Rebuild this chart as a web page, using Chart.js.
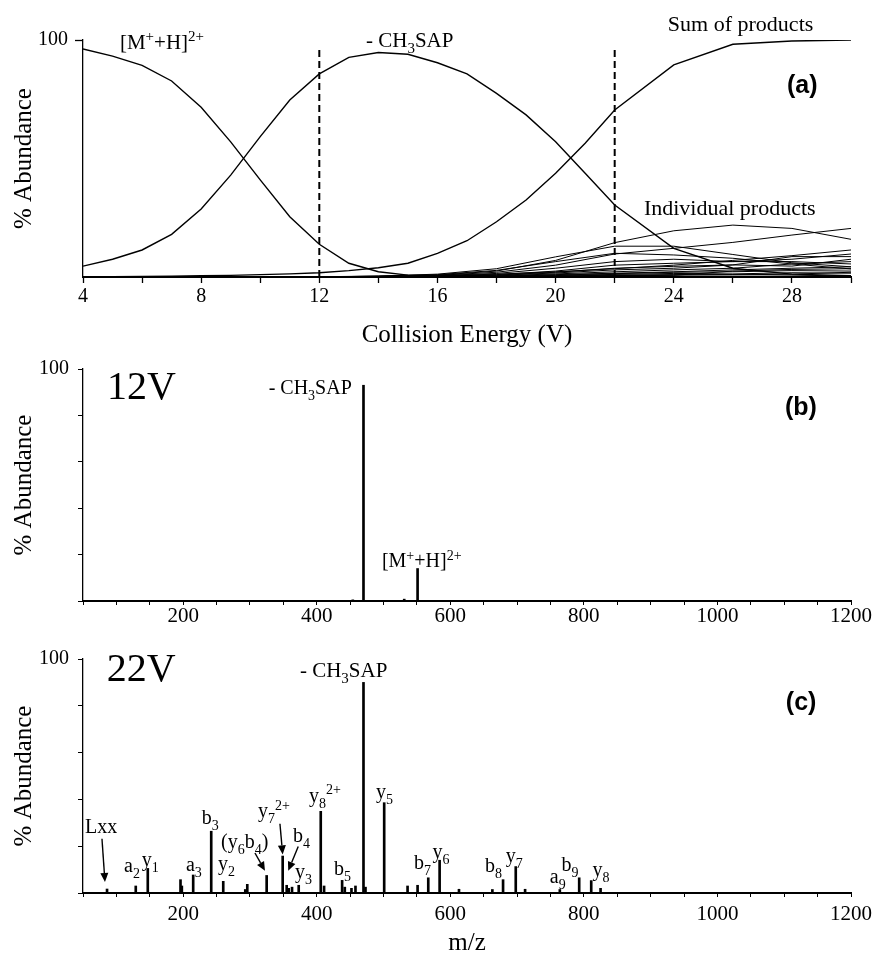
<!DOCTYPE html>
<html><head><meta charset="utf-8">
<script src="https://cdn.jsdelivr.net/npm/chart.js@4.4.0/dist/chart.umd.min.js"></script>
<style>
html,body{margin:0;padding:0;background:#fff;width:881px;height:956px;overflow:hidden;}
canvas{position:absolute;left:0;}
</style></head><body>
<canvas id="ca" width="881" height="350" style="top:0px"></canvas>
<canvas id="cb" width="881" height="290" style="top:350px"></canvas>
<canvas id="cc" width="881" height="316" style="top:640px"></canvas>
<script>
// ---------- Panel (a): breakdown curves ----------
const energies = [4,5,6,7,8,9,10,11,12,13,14,15,16,17,18,19,20,21,22,24,26,28,30];
const precursor = [96.2,93.2,89.3,82.7,71.6,57,41,25.4,13.8,5.8,2.2,0.8,0.4,0.2,0.1,0.1,0.1,0,0,0,0,0,0];
const lossCH3SAP = [4.6,7.5,11.4,18,28.7,43,59.2,74.7,85.7,92.7,94.7,94,90.4,85.7,77.5,68.4,57.1,43.8,30.4,12.1,3.7,1.2,0.5];
const sumProducts = [0,0.1,0.2,0.3,0.5,0.7,1,1.3,1.8,2.7,3.9,5.8,10,15.3,23.3,32.5,43.8,56.4,70.5,89.5,98.2,99.6,100];
const productEnergies = [4,8,12,14,16,18,20,22,24,26,28,30];
const product1  = [0,0,0.1,0.3,0.8,2.5,7,14.5,19.5,21.9,20.5,15.9];
const product2  = [0,0,0.1,0.3,0.7,2,5,9.7,12.1,14.6,17.7,20.5];
const product3  = [0,0,0.1,0.4,1.2,3.5,8.5,13,13,9.5,6,4.3];
const product4  = [0,0,0,0.2,0.5,1.2,2.2,3.5,5,7,9,11.4];
const product5  = [0,0,0.1,0.3,1,2.8,6.5,10,9.3,7.9,5.5,3.4];
const product6  = [0,0,0,0.2,0.6,1.5,3.7,6.5,7.5,6.5,6.5,5.5];
const product7  = [0,0,0,0.1,0.4,1,2.5,5,5.8,6.5,7.5,9.7];
const product8  = [0,0,0,0.1,0.3,0.8,2,3.7,4.5,5.1,8.6,8.6];
const product9  = [0,0,0,0.1,0.3,0.7,1.7,3,3.7,5.1,4.6,7.5];
const product10 = [0,0,0,0.1,0.2,0.5,1.3,2.2,3,3.7,5.5,6.5];
const product11 = [0,0,0,0,0.2,0.4,1,1.6,2.2,3,3.7,4.3];
const product12 = [0,0,0,0,0.1,0.3,0.8,1.4,2,2.2,2.7,2.5];
const product13 = [0,0,0,0,0.1,0.2,0.6,1.1,1.5,1.3,1.8,1.6];
const product14 = [0,0,0,0,0.1,0.2,0.4,0.8,1,1,0.8,0.4];
const product15 = [0,0,0,0,0,0.1,0.3,0.6,0.8,0.9,1.2,2];
const product16 = [0,0,0,0,0,0.1,0.2,0.5,0.7,2.5,3.2,3.5];
const individualProducts = [product1,product2,product3,product4,product5,product6,product7,product8,
  product9,product10,product11,product12,product13,product14,product15,product16];
const markedEnergies = [12, 22];
const markerTop = 97;
const energyTickLabels = [4,8,12,16,20,24,28];

// ---------- Panel (b): 12 V spectrum ----------
const mz12V  = [454, 470, 531, 551];
const int12V = [0.5, 93, 0.8, 14];

// ---------- Panel (c): 22 V spectrum ----------
const mz22V  = [86,129,147,196,198,215,242,260,293,296,325,349,355,358,363,373,406,411,438,442,452,458,470,473,501,536,551,567,584,613,663,679,698,712,764,793,811,825];
const int22V = [1.7,3,10.5,5.7,3,7.7,26.4,5,1.5,3.7,7.5,15.8,3.3,2,2.5,3.3,34.9,3,5.4,2.5,2,3,90,2.5,38.6,3,3.3,6.5,14,1.6,1.5,5.7,11.3,1.6,1.5,6.5,5.3,2];
const mzTickLabels = [200,400,600,800,1000,1200];

// ---------- Annotation texts ----------
const notesA = [
  {text:'[M^{+}+H]^{2+}', x:5.25, y:96.2, size:21},
  {text:'- CH_{3}SAP', x:13.58, y:97, size:21},
  {text:'Sum of products', x:23.8, y:104, size:22},
  {text:'Individual products', x:22.99, y:26.2, size:22},
  {text:'(a)', x:27.83, y:80.4, size:25, bold:true, family:'"Liberation Sans", Arial, sans-serif', baseline:'middle'}
];
const notesB = [
  {text:'12V', x:86, y:87, size:40},
  {text:'- CH_{3}SAP', x:328, y:89.1, size:20},
  {text:'[M^{+}+H]^{2+}', x:497.6, y:14.6, size:20},
  {text:'(b)', x:1101, y:83.3, size:25, bold:true, family:'"Liberation Sans", Arial, sans-serif', baseline:'middle'}
];
const notesC = [
  {text:'22V', x:85.5, y:90.5, size:40},
  {text:'- CH_{3}SAP', x:374.8, y:92.5, size:21},
  {text:'(c)', x:1102.4, y:81.3, size:25, bold:true, family:'"Liberation Sans", Arial, sans-serif', baseline:'middle'},
  {text:'Lxx', x:53, y:25.7, size:20},
  {text:'a_{2}', x:111.4, y:8.8, size:20},
  {text:'y_{1}', x:137.9, y:11.6, size:20},
  {text:'a_{3}', x:204.2, y:9.3, size:20},
  {text:'b_{3}', x:227.7, y:29.6, size:20},
  {text:'y_{2}', x:252, y:10, size:20},
  {text:'(y_{6}b_{4})', x:256.6, y:19.2, size:20},
  {text:'y_{7}^{2+}', x:312, y:32.4, size:20},
  {text:'b_{4}', x:364.4, y:22, size:20},
  {text:'y_{3}', x:367.4, y:6.2, size:20},
  {text:'y_{8}^{2+}', x:388.3, y:39, size:20},
  {text:'b_{5}', x:425.7, y:7.5, size:20},
  {text:'y_{5}', x:488.6, y:40.4, size:20},
  {text:'b_{7}', x:545.5, y:10.2, size:20},
  {text:'y_{6}', x:573.5, y:14.8, size:20},
  {text:'b_{8}', x:651.8, y:8.8, size:20},
  {text:'y_{7}', x:683.2, y:13.3, size:20},
  {text:'a_{9}', x:749, y:4.3, size:20},
  {text:'b_{9}', x:766.6, y:9.3, size:20},
  {text:'y_{8}', x:813, y:7.2, size:20}
];
const arrowsC = [
  {from:[78.4,23.2], to:[82.9,4.7]},
  {from:[307.5,17.1], to:[322.5,9.5]},
  {from:[344.9,29.6], to:[349,16.5]},
  {from:[372.3,19.9], to:[357.3,9.5]}
];

const SERIF = '"Liberation Serif", "Times New Roman", serif';
Chart.defaults.font.family = SERIF;
Chart.defaults.color = '#000';

function parseRich(s){
  const re=/([_^])\{([^}]*)\}|([^_^]+)/g; const out=[]; let m;
  while((m=re.exec(s))){ if(m[3]!==undefined) out.push({t:m[3],k:''}); else out.push({t:m[2],k:m[1]}); }
  return out;
}
function drawRich(ctx,x,y,it){
  const parts=parseRich(it.text); const size=it.size; const small=Math.round(size*0.72);
  const fam=it.family||SERIF; const b=it.bold?'bold ':'';
  ctx.textAlign='left'; ctx.textBaseline=it.baseline||'alphabetic'; ctx.fillStyle='#000';
  let cx=x;
  parts.forEach(p=>{
    ctx.font=b+(p.k?small:size)+'px '+fam;
    const dy=p.k==='_'?size*0.3:(p.k==='^'?-size*0.38:0);
    ctx.fillText(p.t,cx,y+dy);
    cx+=ctx.measureText(p.t).width;
  });
}
const notesPlugin={
  id:'notes',
  afterDatasetsDraw(chart,args,opts){
    const ctx=chart.ctx, xs=chart.scales.x, ys=chart.scales.y;
    ctx.save();
    (opts.arrows||[]).forEach(a=>{
      const x0=xs.getPixelForValue(a.from[0]), y0=ys.getPixelForValue(a.from[1]);
      const x1=xs.getPixelForValue(a.to[0]), y1=ys.getPixelForValue(a.to[1]);
      const ang=Math.atan2(y1-y0,x1-x0), L=9, W=4;
      const bx=x1-L*Math.cos(ang), by=y1-L*Math.sin(ang);
      ctx.strokeStyle='#000'; ctx.lineWidth=1.4;
      ctx.beginPath(); ctx.moveTo(x0,y0); ctx.lineTo(bx,by); ctx.stroke();
      ctx.fillStyle='#000'; ctx.beginPath(); ctx.moveTo(x1,y1);
      ctx.lineTo(bx+W*Math.sin(ang),by-W*Math.cos(ang));
      ctx.lineTo(bx-W*Math.sin(ang),by+W*Math.cos(ang)); ctx.closePath(); ctx.fill();
    });
    (opts.items||[]).forEach(it=>drawRich(ctx,xs.getPixelForValue(it.x),ys.getPixelForValue(it.y),it));
    ctx.restore();
  }
};

const pts=(xs,ys)=>xs.map((v,i)=>({x:v,y:ys[i]}));
const lineDs=(data,w)=>({data,borderColor:'#000',borderWidth:w,pointRadius:0,tension:0,fill:false});

// ---------- Chart (a) ----------
new Chart(document.getElementById('ca'),{
  type:'line',
  data:{datasets:[
    ...individualProducts.map(arr=>lineDs(pts(productEnergies,arr),1)),
    lineDs(pts(energies,precursor),1.4),
    lineDs(pts(energies,lossCH3SAP),1.4),
    lineDs(pts(energies,sumProducts),1.4),
    ...markedEnergies.map(e=>Object.assign(lineDs([{x:e,y:0},{x:e,y:markerTop}],2),{borderDash:[7,4]}))
  ]},
  options:{
    responsive:false,animation:false,devicePixelRatio:1,
    layout:{padding:{top:40,right:30,left:0,bottom:0}},
    plugins:{legend:{display:false},tooltip:{enabled:false},notes:{items:notesA}},
    scales:{
      x:{type:'linear',min:4,max:30,
        afterFit:s=>{s.height=73;},
        ticks:{stepSize:2,autoSkip:false,maxRotation:0,
          callback:v=>energyTickLabels.includes(v)?String(v):'',
          font:{size:20,lineHeight:1},padding:4,color:'#000'},
        grid:{display:true,drawOnChartArea:false,drawTicks:true,tickLength:6,color:'#000',tickColor:'#000',tickWidth:1.3},
        border:{display:true,color:'#000',width:2},
        title:{display:true,text:'Collision Energy (V)',font:{size:25,lineHeight:1.2},padding:{top:0,bottom:0},color:'#000'}},
      y:{min:0,max:100,
        afterFit:s=>{s.width=83;},
        ticks:{stepSize:100,callback:v=>v===100?'100':'',font:{size:20,lineHeight:1},padding:7,color:'#000'},
        grid:{display:true,drawOnChartArea:false,drawTicks:true,tickLength:8,tickWidth:1.3,
          tickColor:c=>(c.tick&&c.tick.value===100)?'#000':'rgba(0,0,0,0)'},
        border:{display:true,color:'#000',width:1.3},
        title:{display:true,text:'% Abundance',font:{size:25,lineHeight:1.2},padding:{top:9,bottom:0},color:'#000'}}
    }
  },
  plugins:[notesPlugin]
});

// ---------- spectra ----------
function spectrum(id,mz,inten,notes,arrows,xHeight,padTop,tickPad,xTitle){
  return new Chart(document.getElementById(id),{
    type:'bar',
    data:{datasets:[{data:pts(mz,inten),backgroundColor:'#000',borderWidth:0,barThickness:2}]},
    options:{
      responsive:false,animation:false,devicePixelRatio:1,
      layout:{padding:{top:padTop,right:30,left:0,bottom:0}},
      plugins:{legend:{display:false},tooltip:{enabled:false},notes:{items:notes,arrows:arrows}},
      scales:{
        x:{type:'linear',min:50,max:1200,offset:false,
          afterFit:s=>{s.height=xHeight;},
          ticks:{stepSize:50,autoSkip:false,maxRotation:0,
            callback:v=>mzTickLabels.includes(v)?String(v):'',
            font:{size:21,lineHeight:1},padding:tickPad,color:'#000'},
          grid:{display:true,offset:false,drawOnChartArea:false,drawTicks:true,tickLength:4,color:'#000',tickColor:'#000',tickWidth:1},
          border:{display:true,color:'#000',width:2},
          title:{display:!!xTitle,text:xTitle||'',font:{size:25,lineHeight:1},padding:{top:0,bottom:0},color:'#000'}},
        y:{min:0,max:100,
          afterFit:s=>{s.width=83;},
          ticks:{stepSize:20,callback:v=>v===100?'100':'',font:{size:20,lineHeight:1},padding:9,color:'#000'},
          grid:{display:true,drawOnChartArea:false,drawTicks:true,tickLength:5,tickWidth:1,tickColor:'#000'},
          border:{display:true,color:'#000',width:1.3},
          title:{display:true,text:'% Abundance',font:{size:25,lineHeight:1.2},padding:{top:9,bottom:0},color:'#000'}}
      }
    },
    plugins:[notesPlugin]
  });
}
spectrum('cb',mz12V,int12V,notesB,[],39,12,1,null);
spectrum('cc',mz22V,int22V,notesC,arrowsC,63,13,7,'m/z');
</script>
</body></html>
